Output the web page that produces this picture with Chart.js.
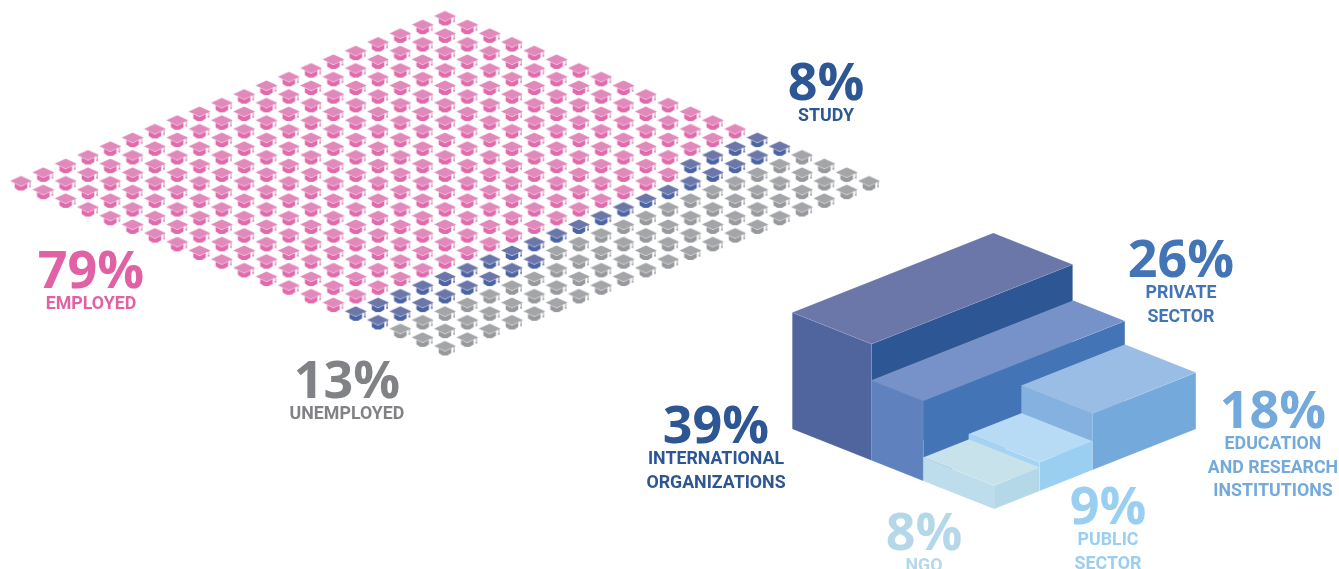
<!DOCTYPE html>
<html>
<head>
<meta charset="utf-8">
<title>Graduates</title>
<script src="https://cdn.jsdelivr.net/npm/chart.js@4"></script>
<style>
  html, body { margin: 0; padding: 0; background: #fff; overflow: hidden; }
  #chartWrap { width: 1339px; height: 569px; }
</style>
</head>
<body>
<div id="chartWrap"><canvas id="chartGraduates" width="1339" height="569"></canvas></div>
<script>
// one row per line of the grid, E employed, S study, U unemployed
const hatRows = [
  'EEEEEEEEEEEEEEEEEEEE',
  'EEEEEEEEEEEEEEEEEEEE',
  'EEEEEEEEEEEEEEEEEEEE',
  'EEEEEEEEEEEEEEEEEEEE',
  'EEEEEEEEEEEEEEEEEEEE',
  'EEEEEEEEEEEEEEEEEEEE',
  'EEEEEEEEEEEEEEEEEEEE',
  'EEEEEEEEEEEEEEEEEEEE',
  'EEEEEEEEEEEEEEEEEEEE',
  'EEEEEEEEEEEEEEEEEEEE',
  'EEEEEEEEEEEEEEEEEEEE',
  'EEEEEEEEEEEEEEEEEEEE',
  'EEEEEEEEEEEEEEEEEEEE',
  'EEEEEEEEEEEEEEEEEEEE',
  'EEEEEEEEEEEEEEEESSSS',
  'SSSSSSSSSSSSSSSSSSSS',
  'SSSSSSSSUUUUUUUUUUUU',
  'UUUUUUUUUUUUUUUUUUUU',
  'UUUUUUUUUUUUUUUUUUUU',
  'UUUUUUUUUUUUUUUUUUUU'
];
const statusCodes = ['E', 'S', 'U'];
const statusNames = ['EMPLOYED', 'STUDY', 'UNEMPLOYED'];
const statusShares = [79, 8, 13];

const sectorNames = ['INTERNATIONAL ORGANIZATIONS', 'PRIVATE SECTOR', 'EDUCATION AND RESEARCH INSTITUTIONS', 'PUBLIC SECTOR', 'NGO'];
const sectorShares = [39, 26, 18, 9, 8];
// block heights as drawn, in percent points
const sectorHeights = [38.8, 26.7, 18.8, 9.6, 7.8];

// styles and layout
const hatColors = {
  E: { board: '#E189BA', cup: '#E06AAB' },
  S: { board: '#6C77A9', cup: '#4B64A4' },
  U: { board: '#A3A5A9', cup: '#98999C' }
};
const blockColors = [
  { top: '#6C77A9', left: '#50659D', right: '#2D5694' },
  { top: '#7792C8', left: '#5F82BF', right: '#4274B6' },
  { top: '#99BDE4', left: '#85B1E0', right: '#74A9DC' },
  { top: '#B8DBF5', left: '#A5D3F3', right: '#9ACFF1' },
  { top: '#C8E2EC', left: '#BDDDEC', right: '#B5D8E9' }
];
const blockFloor = [
  { u0: 0, u1: 201, v0: 0, v1: 79.4 },
  { u0: 0, u1: 201.6, v0: 79.4, v1: 131 },
  { u0: 98.2, u1: 201.8, v0: 131, v1: 201.8 },
  { u0: 45.4, u1: 98.2, v0: 131, v1: 201.8 },
  { u0: 0, u1: 45.4, v0: 131, v1: 201.8 }
];
const floorSlope = 0.396;
const pxPerPoint = 3;

const textBlocks = [
  { pct: statusShares[0], lines: ['EMPLOYED'], x: 91, y: 288, color: '#E062A5' },
  { pct: statusShares[2], lines: ['UNEMPLOYED'], x: 347, y: 398, color: '#808285' },
  { pct: statusShares[1], lines: ['STUDY'], x: 826, y: 100, color: '#2D5694' },
  { pct: sectorShares[1], lines: ['PRIVATE', 'SECTOR'], x: 1181, y: 277, color: '#4274B6' },
  { pct: sectorShares[0], lines: ['INTERNATIONAL', 'ORGANIZATIONS'], x: 716, y: 443, color: '#2D5694' },
  { pct: sectorShares[2], lines: ['EDUCATION', 'AND RESEARCH', 'INSTITUTIONS'], x: 1273, y: 428, color: '#74A9DC' },
  { pct: sectorShares[3], lines: ['PUBLIC', 'SECTOR'], x: 1108, y: 524, color: '#9ACFF1' },
  { pct: sectorShares[4], lines: ['NGO'], x: 924, y: 550, color: '#B5D8E9' }
];

function makeHat(colors) {
  const c = document.createElement('canvas');
  c.width = 24;
  c.height = 17;
  const g = c.getContext('2d');
  // cup
  g.fillStyle = colors.cup;
  g.beginPath();
  g.moveTo(5.7, 8.9);
  g.lineTo(12, 12);
  g.lineTo(18.3, 8.9);
  g.lineTo(18.3, 13.4);
  g.quadraticCurveTo(12, 18.8, 5.7, 13.4);
  g.closePath();
  g.fill();
  // board
  g.fillStyle = colors.board;
  g.beginPath();
  g.moveTo(1, 6.5);
  g.lineTo(12, 1.5);
  g.lineTo(23, 6.5);
  g.lineTo(12, 11.4);
  g.closePath();
  g.fill();
  // tassel
  g.fillRect(20.6, 7, 1, 5);
  g.fillRect(20.2, 11, 1.8, 1.6);
  return c;
}

function hatPoints(code) {
  const pts = [];
  hatRows.forEach((row, b) => {
    row.split('').forEach((cell, a) => {
      if (cell === code) pts.push({ x: a + b, y: b - a });
    });
  });
  return pts;
}

// floor position plus height to the block axes
function project(u, v, z) {
  return { x: u + v, y: floorSlope * (v - u) - z };
}

function blockFaces(i) {
  const f = blockFloor[i];
  const h = sectorHeights[i] * pxPerPoint;
  const top = [project(f.u0, f.v0, h), project(f.u1, f.v0, h), project(f.u1, f.v1, h), project(f.u0, f.v1, h)];
  const left = [project(f.u0, f.v0, h), project(f.u0, f.v1, h), project(f.u0, f.v1, 0), project(f.u0, f.v0, 0)];
  const right = [project(f.u0, f.v1, h), project(f.u1, f.v1, h), project(f.u1, f.v1, 0), project(f.u0, f.v1, 0)];
  return { left, right, top };
}

const datasets = [];
let drawOrder = 1000;

sectorNames.forEach((name, i) => {
  const faces = blockFaces(i);
  ['left', 'right', 'top'].forEach((side) => {
    const pts = faces[side];
    datasets.push({
      label: name + ' ' + side,
      data: pts.concat([pts[0]]),
      xAxisID: 'xb',
      yAxisID: 'yb',
      showLine: true,
      fill: 'shape',
      tension: 0,
      backgroundColor: blockColors[i][side],
      borderColor: 'rgba(255,255,255,0.15)',
      borderWidth: 0.5,
      pointRadius: 0,
      order: drawOrder--
    });
  });
});

statusCodes.forEach((code, i) => {
  datasets.push({
    label: statusNames[i],
    data: hatPoints(code),
    xAxisID: 'x',
    yAxisID: 'y',
    pointStyle: makeHat(hatColors[code]),
    pointRadius: 10,
    showLine: false,
    order: drawOrder--
  });
});

const textPlugin = {
  id: 'shareText',
  afterDraw(chart) {
    const ctx = chart.ctx;
    ctx.save();
    ctx.textAlign = 'center';
    ctx.textBaseline = 'alphabetic';
    textBlocks.forEach((t) => {
      ctx.fillStyle = t.color;
      ctx.font = '700 52px "Open Sans"';
      ctx.fillText(t.pct + '%', t.x, t.y);
      ctx.font = '700 17.8px Roboto';
      t.lines.forEach((line, n) => {
        ctx.fillText(line, t.x, t.y + 21 + n * 23.5);
      });
    });
    ctx.restore();
  }
};

const unitX = 424 / 19;
const unitY = 165 / 19;

new Chart(document.getElementById('chartGraduates'), {
  type: 'scatter',
  data: { datasets },
  plugins: [textPlugin],
  options: {
    responsive: false,
    animation: false,
    layout: { padding: 0, autoPadding: false },
    plugins: { legend: { display: false }, tooltip: { enabled: false } },
    scales: {
      x: { type: 'linear', display: false, min: -21 / unitX, max: (1339 - 21) / unitX },
      y: { type: 'linear', display: false, reverse: true, min: -183 / unitY, max: (569 - 183) / unitY },
      xb: { type: 'linear', axis: 'x', display: false, min: -792.3, max: 1339 - 792.3 },
      yb: { type: 'linear', axis: 'y', display: false, reverse: true, min: -429, max: 569 - 429 }
    }
  }
});
</script>
</body>
</html>
